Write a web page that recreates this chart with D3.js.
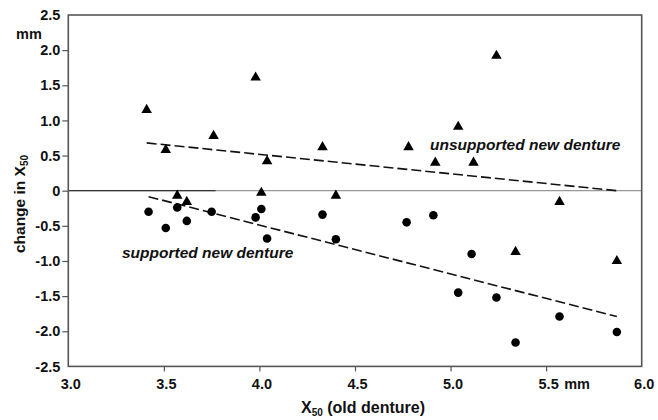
<!DOCTYPE html>
<html><head><meta charset="utf-8">
<script src="https://cdn.jsdelivr.net/npm/d3@7"></script>
<style>
body{margin:0;background:#fff;}
text{font-family:"Liberation Sans",Arial,sans-serif;font-weight:bold;fill:#111;}
</style></head>
<body><svg id="c" width="658" height="420"></svg>
<script>
// Data
const unsupportedX = [3.41,3.51,3.57,3.62,3.76,3.98,4.01,4.04,4.33,4.40,4.78,4.92,5.04,5.12,5.24,5.34,5.57,5.87];
const unsupportedY = [1.15,0.58,-0.07,-0.16,0.78,1.61,-0.03,0.42,0.62,-0.07,0.62,0.40,0.91,0.40,1.92,-0.87,-0.16,-1.00];
const supportedX = [3.42,3.51,3.57,3.62,3.75,3.98,4.01,4.04,4.33,4.40,4.77,4.91,5.04,5.11,5.24,5.34,5.57,5.87];
const supportedY = [-0.30,-0.53,-0.24,-0.43,-0.30,-0.38,-0.26,-0.68,-0.34,-0.69,-0.45,-0.35,-1.45,-0.90,-1.52,-2.16,-1.79,-2.01];
const unsupportedFitX = [3.41,5.87];
const unsupportedFitY = [0.68,0.00];
const supportedFitX = [3.42,5.87];
const supportedFitY = [-0.085,-1.79];
const xTicks = [3.0,3.5,4.0,4.5,5.0,5.5,6.0];
const xTickLabels = ["3.0","3.5","4.0","4.5","5.0","5.5","6.0"];
const yTicks = [2.5,2.0,1.5,1.0,0.5,0,-0.5,-1.0,-1.5,-2.0,-2.5];
const yTickLabels = ["2.5","2.0","1.5","1.0","0.5","0","-0.5","-1.0","-1.5","-2.0","-2.5"];

const svg = d3.select("#c");
const x = d3.scaleLinear().domain([3,6]).range([68.3,641.7]);
const y = d3.scaleLinear().domain([-2.5,2.5]).range([366.4,15]);
const frame = "#555";
const FS = 14.5;

// zero line
svg.append("line").attr("x1",x(3)).attr("x2",x(6)).attr("y1",y(0)).attr("y2",y(0))
  .attr("stroke","#999").attr("stroke-width",1.2);
svg.append("line").attr("x1",x(3)).attr("x2",x(3.77)).attr("y1",y(0)).attr("y2",y(0))
  .attr("stroke","#333").attr("stroke-width",1.2);

// frame
svg.append("rect").attr("x",x(3)).attr("y",y(2.5)).attr("width",x(6)-x(3)).attr("height",y(-2.5)-y(2.5))
  .attr("fill","none").attr("stroke",frame).attr("stroke-width",1.6);

// axes
const xAxis = d3.axisBottom(x).tickValues(xTicks).tickSize(5).tickPadding(7)
  .tickFormat((d,i)=>xTickLabels[i]);
const gx = svg.append("g").attr("transform",`translate(0,${y(-2.5)})`).call(xAxis);
gx.select(".domain").remove();
gx.selectAll(".tick line").attr("stroke",frame).attr("stroke-width",1.2);
gx.selectAll(".tick text").attr("font-size",FS).attr("fill","#111").attr("dx",2)
  .attr("font-family","Liberation Sans, Arial, sans-serif").attr("font-weight","bold");
gx.selectAll(".tick").filter(d=>d===3||d===6).select("line").remove();

const yAxis = d3.axisLeft(y).tickValues(yTicks).tickSize(6).tickPadding(2)
  .tickFormat((d,i)=>yTickLabels[i]);
const gy = svg.append("g").attr("transform",`translate(${x(3)},0)`).call(yAxis);
gy.select(".domain").remove();
gy.selectAll(".tick line").attr("stroke",frame).attr("stroke-width",1.2);
gy.selectAll(".tick text").attr("font-size",FS).attr("fill","#111")
  .attr("font-family","Liberation Sans, Arial, sans-serif").attr("font-weight","bold");
gy.selectAll(".tick").filter(d=>d===2.5||d===-2.5).select("line").remove();

// units
svg.append("text").attr("x",x(5.5)+18).attr("y",y(-2.5)+22.5).attr("font-size",FS).text("mm");
svg.append("text").attr("x",29).attr("y",38.5).attr("text-anchor","middle").attr("font-size",FS).text("mm");

// axis titles
const yt = svg.append("text").attr("transform",`translate(25,204) rotate(-90)`)
  .attr("text-anchor","middle").attr("font-size",15.5);
yt.append("tspan").text("change in X");
yt.append("tspan").attr("font-size",10).attr("dy",3).text("50");
const xt = svg.append("text").attr("x",x(4.5)+8).attr("y",413).attr("text-anchor","middle").attr("font-size",16);
xt.append("tspan").text("X");
xt.append("tspan").attr("font-size",10).attr("dy",3).text("50");
xt.append("tspan").attr("dy",-3).text(" (old denture)");

// fit lines
const line = d3.line().x(d=>x(d[0])).y(d=>y(d[1]));
svg.append("path").datum(unsupportedFitX.map((v,i)=>[v,unsupportedFitY[i]])).attr("d",line)
  .attr("fill","none").attr("stroke","#111").attr("stroke-width",1.6).attr("stroke-dasharray","10,4");
svg.append("path").datum(supportedFitX.map((v,i)=>[v,supportedFitY[i]])).attr("d",line)
  .attr("fill","none").attr("stroke","#111").attr("stroke-width",1.6).attr("stroke-dasharray","10,4");

// points
const tri = d3.symbol().type(d3.symbolTriangle).size(48);
svg.append("g").selectAll("path").data(unsupportedX.map((v,i)=>[v,unsupportedY[i]])).join("path")
  .attr("d",tri).attr("transform",d=>`translate(${x(d[0])},${y(d[1])})`).attr("fill","#000");
svg.append("g").selectAll("circle").data(supportedX.map((v,i)=>[v,supportedY[i]])).join("circle")
  .attr("cx",d=>x(d[0])).attr("cy",d=>y(d[1])).attr("r",4.3).attr("fill","#000");

// annotations
svg.append("text").attr("x",430).attr("y",150).attr("font-size",15.5).attr("font-style","italic").text("unsupported new denture");
svg.append("text").attr("x",122).attr("y",258).attr("font-size",15.5).attr("font-style","italic").text("supported new denture");
</script></body></html>
